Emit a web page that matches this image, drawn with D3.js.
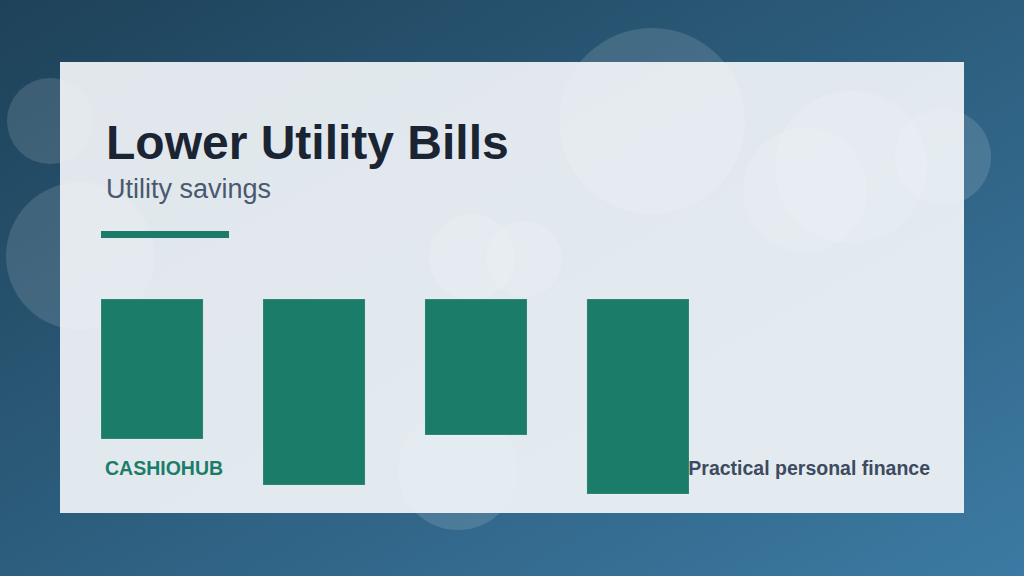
<!DOCTYPE html>
<html><head><meta charset="utf-8">
<script src="https://cdn.jsdelivr.net/npm/d3@7"></script>
<style>body{margin:0;overflow:hidden}svg{display:block;font-family:"Liberation Sans",Arial,sans-serif}</style>
</head><body>
<script>
// chart values
const categories = ["A", "B", "C", "D"]
const savings = [140, 186, 136, 195]
const bubbles = [[652,121,93],[851,167,76],[805,190,62],[943,157,48],[50,121,43],[80,256,74],[472,257,43],[524,259,38],[458,470,60]]

const W = 1024, H = 576
const svg = d3.select("body").append("svg").attr("width", W).attr("height", H)

const defs = svg.append("defs")
const bg = defs.append("linearGradient").attr("id", "bg").attr("x1", 0).attr("y1", 0).attr("x2", 1).attr("y2", 1)
bg.append("stop").attr("offset", 0).attr("stop-color", "#1e4259")
bg.append("stop").attr("offset", 1).attr("stop-color", "#3c7aa3")
svg.append("rect").attr("width", W).attr("height", H).attr("fill", "url(#bg)")

svg.selectAll("circle.bub").data(bubbles).join("circle")
    .attr("cx", d => d[0]).attr("cy", d => d[1]).attr("r", d => d[2])
    .attr("fill", "rgba(255,255,255,0.13)")

svg.append("rect").attr("x", 60).attr("y", 62).attr("width", 904).attr("height", 451)
    .attr("fill", "rgba(246,248,251,0.9)")

svg.append("text").attr("x", 106).attr("y", 159).text("Lower Utility Bills")
    .attr("font-size", 48).attr("font-weight", "bold").attr("fill", "#1b2433")
svg.append("text").attr("x", 106).attr("y", 198).text("Utility savings")
    .attr("font-size", 27).attr("fill", "#4a5870")
svg.append("rect").attr("x", 101).attr("y", 231).attr("width", 128).attr("height", 7).attr("fill", "#1b7d69")

svg.append("text").attr("x", 105).attr("y", 475).text("CASHIOHUB")
    .attr("font-size", 19.5).attr("font-weight", "bold").attr("fill", "#1b7d69")
svg.append("text").attr("x", 930).attr("y", 475).attr("text-anchor", "end").text("Practical personal finance")
    .attr("font-size", 19.5).attr("font-weight", "bold").attr("fill", "#3d4a60")

const x = d3.scaleBand().domain(categories).range([101, 689]).paddingInner(0.37).paddingOuter(0)
const y = d3.scaleLinear().domain([0, 200]).range([0, 200])

svg.selectAll("rect.bar").data(savings).join("rect")
    .attr("class", "bar")
    .attr("x", (d, i) => x(categories[i])).attr("y", 299)
    .attr("width", x.bandwidth()).attr("height", d => y(d))
    .attr("fill", "#1b7d69").attr("stroke", "rgba(255,255,255,0.3)").attr("stroke-width", 0.5)
</script>
</body></html>
